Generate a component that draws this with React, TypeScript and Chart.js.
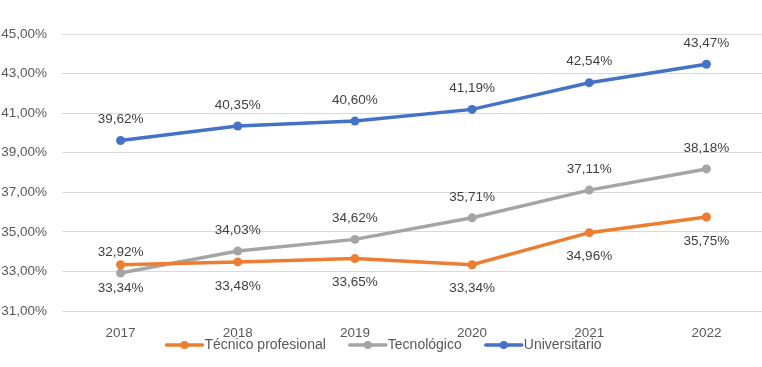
import React, { useEffect, useRef } from "react";
import { Chart, registerables } from "chart.js";

Chart.register(...registerables);

const years = ["2017", "2018", "2019", "2020", "2021", "2022"];
const tecnicoProfesional = [33.34, 33.48, 33.65, 33.34, 34.96, 35.75];
const tecnologico = [32.92, 34.03, 34.62, 35.71, 37.11, 38.18];
const universitario = [39.62, 40.35, 40.6, 41.19, 42.54, 43.47];
const seriesNames = ["Técnico profesional", "Tecnológico", "Universitario"];
const seriesColors = ["#ED7D31", "#A5A5A5", "#4472C4"];
const labelBelow = [true, false, false];
const yMin = 31;
const yMax = 45;
const yStep = 2;

const FONT = "'Liberation Sans', Arial, sans-serif";
const TEXT = "#595959";

const fmt = (v: number) => v.toFixed(2).replace(".", ",") + "%";

const dataLabelPlugin = {
  id: "dataLabels",
  afterDatasetsDraw(chart: any) {
    const ctx = chart.ctx;
    ctx.save();
    ctx.font = `13.5px ${FONT}`;
    ctx.fillStyle = "#404040";
    ctx.textAlign = "center";
    ctx.textBaseline = "middle";
    chart.data.datasets.forEach((ds: any, i: number) => {
      const meta = chart.getDatasetMeta(i);
      meta.data.forEach((pt: any, j: number) => {
        const below = labelBelow[i];
        ctx.fillText(fmt(ds.data[j]), pt.x, pt.y + (below ? 24 : -21));
      });
    });
    ctx.restore();
  },
};

const legendPlugin = {
  id: "customLegend",
  afterDraw(chart: any) {
    const ctx = chart.ctx;
    ctx.save();
    ctx.font = `14px ${FONT}`;
    const lineLen = 36;
    const gapText = 2;
    const gapItem = 24;
    const widths = seriesNames.map((n) => ctx.measureText(n).width);
    const total =
      widths.reduce((a, b) => a + b, 0) +
      seriesNames.length * (lineLen + gapText) +
      gapItem * (seriesNames.length - 1);
    let x = 384 - total / 2;
    const y = 345;
    seriesNames.forEach((name, i) => {
      ctx.strokeStyle = seriesColors[i];
      ctx.lineWidth = 3.5;
      ctx.lineCap = "round";
      ctx.beginPath();
      ctx.moveTo(x, y);
      ctx.lineTo(x + lineLen, y);
      ctx.stroke();
      ctx.fillStyle = seriesColors[i];
      ctx.beginPath();
      ctx.arc(x + lineLen / 2, y, 4, 0, Math.PI * 2);
      ctx.fill();
      ctx.fillStyle = TEXT;
      ctx.textAlign = "left";
      ctx.textBaseline = "middle";
      ctx.fillText(name, x + lineLen + gapText, y);
      x += lineLen + gapText + widths[i] + gapItem;
    });
    ctx.restore();
  },
};

export default function App() {
  const ref = useRef<HTMLCanvasElement>(null);
  useEffect(() => {
    if (!ref.current) return;
    const datasets = [tecnicoProfesional, tecnologico, universitario].map((d, i) => ({
      label: seriesNames[i],
      data: d,
      borderColor: seriesColors[i],
      backgroundColor: seriesColors[i],
      borderWidth: 3.5,
      pointRadius: 4.5,
      pointHoverRadius: 4.5,
      pointBorderWidth: 0,
      tension: 0,
    }));
    const chart = new Chart(ref.current, {
      type: "line",
      data: { labels: years, datasets },
      options: {
        animation: false,
        responsive: false,
        maintainAspectRatio: false,
        layout: { padding: { top: 34, left: 0, right: 5, bottom: 0 } },
        plugins: { legend: { display: false }, tooltip: { enabled: false } },
        scales: {
          x: {
            offset: true,
            grid: { display: false, drawTicks: false },
            border: { display: false },
            ticks: { color: TEXT, font: { family: FONT, size: 13.5 }, padding: 14 },
            afterFit: (s: any) => {
              s.height = 56;
            },
          },
          y: {
            min: yMin,
            max: yMax,
            grid: { color: "#D9D9D9", lineWidth: 1, drawTicks: false },
            border: { display: false },
            ticks: {
              stepSize: yStep,
              color: TEXT,
              font: { family: FONT, size: 13.5 },
              padding: 15,
              callback: (v: any) => fmt(Number(v)),
            },
            afterFit: (s: any) => {
              s.width = 62;
            },
          },
        },
      },
      plugins: [dataLabelPlugin, legendPlugin],
    });
    return () => chart.destroy();
  }, []);
  return (
    <div
      style={{
        position: "absolute",
        left: 0,
        top: 0,
        width: 762,
        height: 367,
        overflow: "hidden",
        background: "#fff",
      }}
    >
      <canvas ref={ref} width={770} height={367} style={{ display: "block" }} />
    </div>
  );
}
